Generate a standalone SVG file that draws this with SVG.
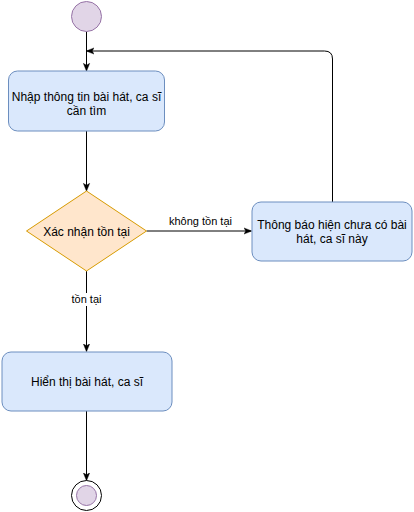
<svg xmlns="http://www.w3.org/2000/svg" width="414" height="512" viewBox="0 0 414 512">
<style>
.box{fill:#dae8fc;stroke:#6c8ebf;stroke-width:1}
.dia{fill:#ffe6cc;stroke:#d79b00;stroke-width:1}
.st{fill:#e1d5e7;stroke:#9673a6;stroke-width:1}
.edge{fill:none;stroke:#000;stroke-width:1}
text{font-family:"Liberation Sans",Arial,sans-serif;font-size:12px;fill:#000;text-anchor:middle}
.lbl{font-size:11px}
</style>
<defs>
<marker id="arr" viewBox="0 0 10 10" refX="9" refY="5" markerWidth="8" markerHeight="8" markerUnits="userSpaceOnUse" orient="auto">
<path d="M0,1 L10,5 L0,9 L2.5,5 Z" fill="#000" stroke="#000" stroke-width="0.5"/>
</marker>
</defs>
<rect width="414" height="512" fill="#fff"/>
<g id="connectors">
<path class="edge" d="M86.5,31.5 V70.5" marker-end="url(#arr)"/>
<path class="edge" d="M86.5,131 V190.5" marker-end="url(#arr)"/>
<path class="edge" d="M146.5,231 H251" marker-end="url(#arr)"/>
<path class="edge" d="M332.5,202 V59 Q332.5,51 324.5,51 H87" marker-end="url(#arr)"/>
<path class="edge" d="M86.5,271 V351" marker-end="url(#arr)"/>
<path class="edge" d="M86.5,411 V480" marker-end="url(#arr)"/>
<rect x="165" y="215" width="72" height="13" fill="#fff"/>
<text class="lbl" x="200.5" y="225">không tồn tại</text>
<rect x="66" y="293" width="41" height="13" fill="#fff"/>
<text class="lbl" x="86.5" y="303">tồn tại</text>
</g>
<g id="start">
<circle class="st" cx="86.5" cy="16.5" r="15"/>
</g>
<g id="nhap">
<rect class="box" x="8.5" y="71" width="156" height="60" rx="9"/>
<text x="86.5" y="101">Nhập thông tin bài hát, ca sĩ</text>
<text x="86.5" y="115">cần tìm</text>
</g>
<g id="xacnhan">
<polygon class="dia" points="86.5,191 146.5,231 86.5,271 26.5,231"/>
<text x="86.5" y="235.5">Xác nhận tồn tại</text>
</g>
<g id="thongbao">
<rect class="box" x="252" y="202" width="160" height="59" rx="9"/>
<text x="332" y="229">Thông báo hiện chưa có bài</text>
<text x="332" y="243">hát, ca sĩ này</text>
</g>
<g id="hienthi">
<rect class="box" x="2" y="352" width="170" height="59" rx="9"/>
<text x="87" y="386">Hiển thị bài hát, ca sĩ</text>
</g>
<g id="end">
<circle cx="86.5" cy="495.5" r="15" fill="#fff" stroke="#000" stroke-width="1"/>
<circle class="st" cx="86.5" cy="495.5" r="10"/>
</g>
</svg>
